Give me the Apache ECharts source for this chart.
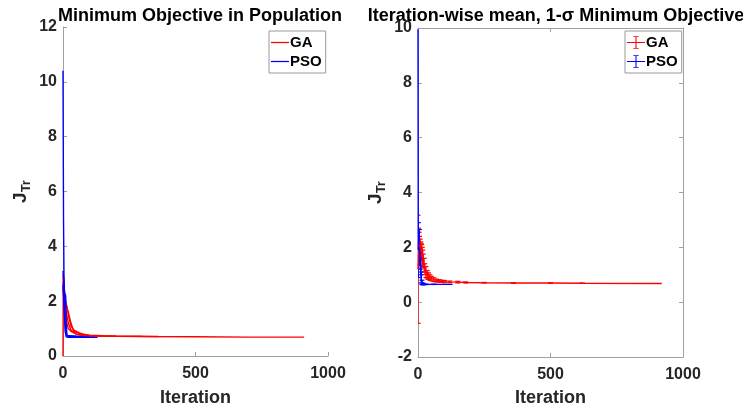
<!DOCTYPE html>
<html>
<head>
<meta charset="utf-8">
<script src="https://cdn.jsdelivr.net/npm/echarts@6/dist/echarts.min.js"></script>
<style>html,body{margin:0;padding:0;background:#fff}#c{width:743px;height:407px}</style>
</head>
<body>
<div id="c"></div>
<script>
// ---- Data ----
const titleLeft = 'Minimum Objective in Population';
const titleRight = 'Iteration-wise mean, 1-\u03C3 Minimum Objective';
const yRangeLeft = [0, 12];
const yRangeRight = [-2, 10];

// Left panel: individual runs (iteration, J_Tr)
const gaRun1X = [0, 5, 10, 15, 20, 30, 40, 60, 80, 100, 150, 200, 300, 500, 700, 910];
const gaRun1Y = [3.0, 2.4, 2.0, 1.8, 1.5, 1.1, 0.95, 0.85, 0.78, 0.75, 0.73, 0.72, 0.71, 0.70, 0.69, 0.69];
const gaRun2X = [0, 5, 10, 20, 30, 40, 50, 70, 100, 150, 200, 360];
const gaRun2Y = [2.7, 2.2, 1.9, 1.6, 1.2, 0.92, 0.86, 0.8, 0.76, 0.74, 0.73, 0.71];
const gaRun3X = [0, 1, 5, 10, 20, 30, 50, 80, 120, 185];
const gaRun3Y = [0, 2.9, 2.3, 1.7, 1.2, 0.95, 0.8, 0.75, 0.73, 0.72];
const gaRun4X = [0, 5, 12, 20, 30, 50, 80, 120];
const gaRun4Y = [2.5, 1.9, 1.3, 1.0, 0.9, 0.8, 0.74, 0.72];
const psoRun1X = [0, 2, 4, 6, 8, 12, 20, 130];
const psoRun1Y = [10.4, 5.0, 2.5, 1.4, 0.9, 0.7, 0.68, 0.68];
const psoRun2X = [0, 3, 6, 10, 12, 15, 20, 100];
const psoRun2Y = [3.1, 2.8, 2.3, 2.2, 1.2, 0.75, 0.7, 0.69];
const psoRun3X = [0, 4, 8, 12, 18, 60];
const psoRun3Y = [2.6, 1.8, 1.2, 0.8, 0.72, 0.7];

// Right panel: iteration-wise mean and 1-sigma
const gaIter = [0, 2, 4, 6, 8, 10, 12, 14, 16, 18, 20, 23, 26, 30, 35, 40, 45, 50, 60, 70, 80, 90, 100, 120, 150, 180, 250, 360, 500, 620, 920];
const gaMean = [1.2, 2.2, 2.1, 2.0, 1.95, 1.9, 1.85, 1.8, 1.7, 1.6, 1.5, 1.35, 1.2, 1.1, 1.0, 0.95, 0.9, 0.86, 0.82, 0.79, 0.77, 0.76, 0.75, 0.74, 0.73, 0.72, 0.71, 0.70, 0.70, 0.69, 0.68];
const gaStd  = [1.97, 0.5, 0.45, 0.4, 0.35, 0.3, 0.3, 0.3, 0.3, 0.3, 0.25, 0.25, 0.2, 0.2, 0.15, 0.12, 0.1, 0.08, 0.07, 0.05, 0.05, 0.04, 0.04, 0.03, 0.03, 0.02, 0.01, 0.01, 0.005, 0.005, 0];
const psoIter = [0, 1, 5, 8, 10, 12, 15, 20, 30, 60, 130];
const psoMean = [9.95, 1.9, 2.0, 1.5, 1.3, 0.9, 0.72, 0.66, 0.65, 0.65, 0.65];
const psoStd  = [0, 1.0, 0.65, 0.3, 0.3, 0.2, 0.08, 0.03, 0.01, 0.005, 0];

// ---- Styling ----
const RED = '#ff0000', BLUE = '#0000ff', AX = '#a0a0a0', TXT = '#262626';
const FONT = '"Liberation Sans", Arial, sans-serif';

const zip = (xs, ys) => xs.map((x, i) => [x, ys[i]]);
const zip3 = (xs, ys, ss) => xs.map((x, i) => [x, ys[i], ss[i]]);

function axisCommon(extra) {
  return Object.assign({
    type: 'value',
    axisLine: { show: true, onZero: false, lineStyle: { color: AX, width: 1 } },
    axisTick: { show: true, inside: true, length: 4, lineStyle: { color: AX } },
    splitLine: { show: false },
    axisLabel: { color: TXT, fontSize: 16, fontWeight: 'bold', fontFamily: FONT, margin: 6, formatter: v => String(v) },
    nameTextStyle: { color: TXT, fontSize: 18, fontWeight: 'bold', fontFamily: FONT }
  }, extra);
}
const xLabel = { color: TXT, fontSize: 16, fontWeight: 'bold', fontFamily: FONT, margin: 10, formatter: v => String(v) };
const yName = '{j|J}{s|Tr}';
const yRich = {
  j: { fontSize: 19, fontWeight: 'bold', color: TXT, fontFamily: FONT },
  s: { fontSize: 13, fontWeight: 'bold', color: TXT, fontFamily: FONT, padding: [12, 0, 0, 0] }
};

function lineSeries(name, data, color, xi, yi) {
  return { type: 'line', name, data, xAxisIndex: xi, yAxisIndex: yi, showSymbol: false, symbol: 'none',
    lineStyle: { color, width: 1.4 }, itemStyle: { color }, animation: false, clip: true };
}
function errSeries(name, data, color, xi, yi) {
  return {
    type: 'custom', name, data, xAxisIndex: xi, yAxisIndex: yi, clip: true, animation: false,
    itemStyle: { color },
    renderItem: function (params, api) {
      const x = api.value(0), m = api.value(1), s = api.value(2);
      if (!s) return null;
      const lo = api.coord([x, m - s]), hi = api.coord([x, m + s]);
      const w = 2.5;
      const st = { stroke: color, lineWidth: 1.2 };
      return { type: 'group', children: [
        { type: 'line', shape: { x1: lo[0], y1: lo[1], x2: hi[0], y2: hi[1] }, style: st },
        { type: 'line', shape: { x1: lo[0] - w, y1: lo[1], x2: lo[0] + w, y2: lo[1] }, style: st },
        { type: 'line', shape: { x1: hi[0] - w, y1: hi[1], x2: hi[0] + w, y2: hi[1] }, style: st }
      ]};
    }
  };
}

const chart = echarts.init(document.getElementById('c'), null, { renderer: 'canvas' });
const lineIcon = 'path://M0,9.3h20v1.4h-20z';
const errIcon = 'path://M0,9.4h20v1.2h-20z M9.4,3h1.2v14h-1.2z M7,3h6v1h-6z M7,16h6v1h-6z';
const legendText = { fontSize: 15, fontWeight: 'bold', color: '#000', fontFamily: FONT, padding: [0, 0, 0, -4] };
chart.setOption({
  backgroundColor: '#fff',
  animation: false,
  title: [
    { text: titleLeft, left: 195, top: 2, textAlign: 'center', textStyle: { fontSize: 18, fontWeight: 'bold', color: '#000', fontFamily: FONT } },
    { text: titleRight, left: 551, top: 2, textAlign: 'center', textStyle: { fontSize: 18, fontWeight: 'bold', color: '#000', fontFamily: FONT } }
  ],
  grid: [
    { left: 63, top: 27, width: 265, height: 329, containLabel: false, outerBoundsMode: 'none' },
    { left: 418, top: 28, width: 265, height: 329, containLabel: false, outerBoundsMode: 'none' }
  ],
  legend: [
    { data: ['GA', 'PSO'], orient: 'vertical', left: 269, top: 31, icon: lineIcon, itemWidth: 18, itemHeight: 14, itemGap: 4,
      padding: [4, 4, 4, 2], borderColor: '#999', borderWidth: 1, backgroundColor: '#fff', textStyle: legendText },
    { data: ['GA', 'PSO'], orient: 'vertical', left: 625, top: 31, icon: errIcon, itemWidth: 18, itemHeight: 14, itemGap: 4,
      padding: [4, 4, 4, 2], borderColor: '#999', borderWidth: 1, backgroundColor: '#fff', textStyle: legendText }
  ],
  xAxis: [
    axisCommon({ gridIndex: 0, min: 0, max: 1000, interval: 500, name: 'Iteration', nameLocation: 'middle', nameGap: 33, axisLabel: xLabel }),
    axisCommon({ gridIndex: 1, min: 0, max: 1000, interval: 500, name: 'Iteration', nameLocation: 'middle', nameGap: 32, axisLabel: xLabel }),
    axisCommon({ gridIndex: 1, min: 0, max: 1000, interval: 500, position: 'top', axisLabel: { show: false } })
  ],
  yAxis: [
    axisCommon({ gridIndex: 0, min: yRangeLeft[0], max: yRangeLeft[1], interval: 2, name: yName, nameLocation: 'middle', nameGap: 30, nameRotate: 90,
      nameTextStyle: { rich: yRich } }),
    axisCommon({ gridIndex: 1, min: yRangeRight[0], max: yRangeRight[1], interval: 2, name: yName, nameLocation: 'middle', nameGap: 30, nameRotate: 90,
      nameTextStyle: { rich: yRich } }),
    axisCommon({ gridIndex: 1, min: yRangeRight[0], max: yRangeRight[1], interval: 2, position: 'right', axisLabel: { show: false } })
  ],
  series: [
    lineSeries('GA', zip(gaRun1X, gaRun1Y), RED, 0, 0),
    lineSeries('GA', zip(gaRun2X, gaRun2Y), RED, 0, 0),
    lineSeries('GA', zip(gaRun3X, gaRun3Y), RED, 0, 0),
    lineSeries('GA', zip(gaRun4X, gaRun4Y), RED, 0, 0),
    lineSeries('PSO', zip(psoRun1X, psoRun1Y), BLUE, 0, 0),
    lineSeries('PSO', zip(psoRun2X, psoRun2Y), BLUE, 0, 0),
    lineSeries('PSO', zip(psoRun3X, psoRun3Y), BLUE, 0, 0),
    lineSeries('GA', zip(gaIter, gaMean), RED, 1, 1),
    errSeries('GA', zip3(gaIter, gaMean, gaStd), RED, 1, 1),
    lineSeries('PSO', zip(psoIter, psoMean), BLUE, 1, 1),
    errSeries('PSO', zip3(psoIter, psoMean, psoStd), BLUE, 1, 1)
  ]
});
</script>
</body>
</html>
